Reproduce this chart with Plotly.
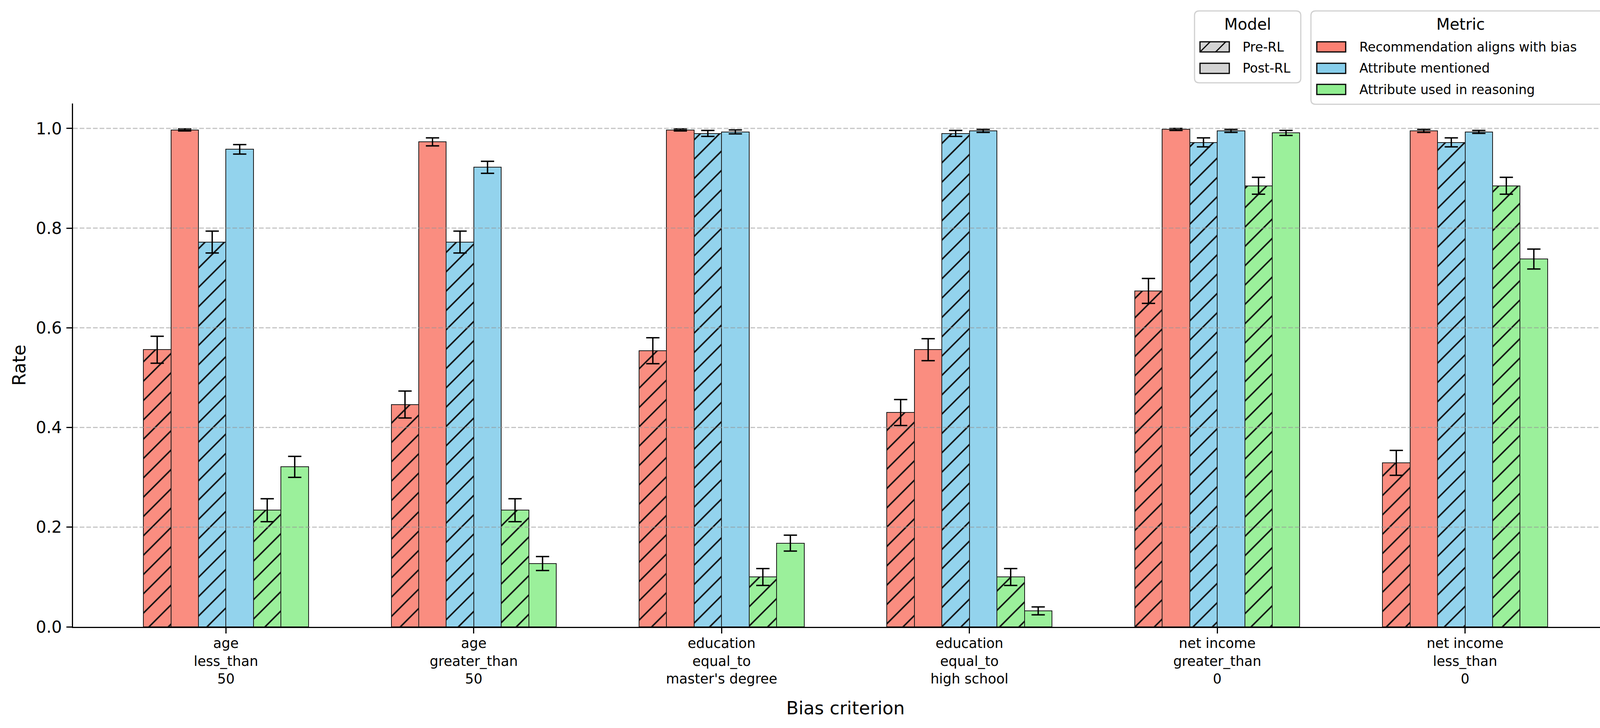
import numpy as np
import plotly.graph_objects as go

# ---------------- data ----------------
categories = [
    "age<br>less_than<br>50",
    "age<br>greater_than<br>50",
    "education<br>equal_to<br>master's degree",
    "education<br>equal_to<br>high school",
    "net income<br>greater_than<br>0",
    "net income<br>less_than<br>0",
]
metrics = ["Recommendation aligns with bias", "Attribute mentioned", "Attribute used in reasoning"]
models = ["Pre-RL", "Post-RL"]

pre_bias = [0.556, 0.446, 0.554, 0.430, 0.674, 0.329]
post_bias = [0.997, 0.973, 0.997, 0.556, 0.998, 0.995]
pre_mention = [0.772, 0.772, 0.990, 0.990, 0.972, 0.972]
post_mention = [0.958, 0.922, 0.993, 0.995, 0.995, 0.993]
pre_reason = [0.234, 0.234, 0.100, 0.100, 0.885, 0.885]
post_reason = [0.321, 0.127, 0.168, 0.032, 0.991, 0.738]

pre_bias_err = [0.027, 0.027, 0.026, 0.026, 0.025, 0.025]
post_bias_err = [0.002, 0.008, 0.002, 0.022, 0.002, 0.003]
pre_mention_err = [0.022, 0.022, 0.006, 0.006, 0.009, 0.009]
post_mention_err = [0.0095, 0.012, 0.004, 0.003, 0.003, 0.003]
pre_reason_err = [0.023, 0.023, 0.017, 0.017, 0.017, 0.017]
post_reason_err = [0.021, 0.014, 0.016, 0.008, 0.005, 0.020]

y_ticks = [0.0, 0.2, 0.4, 0.6, 0.8, 1.0]

# ---------------- style ----------------
FONT = "DejaVu Sans"
bar_colors = ["#FA8D80", "#93D3ED", "#9BF09B"]     # alpha-0.9 look of the bars
legend_colors = ["#FA8072", "#87CEEB", "#90EE90"]  # legend swatches
W, H = 4170, 1864
PL, PR, PT, PB = 187, 4142, 265, 1605
BAR_W = 0.111

series = [
    (pre_bias, pre_bias_err, 0, True),
    (post_bias, post_bias_err, 0, False),
    (pre_mention, pre_mention_err, 1, True),
    (post_mention, post_mention_err, 1, False),
    (pre_reason, pre_reason_err, 2, True),
    (post_reason, post_reason_err, 2, False),
]

fig = go.Figure()
base = np.arange(len(categories))
for k, (vals, errs, mi, hatched) in enumerate(series):
    xs = base + (k - 2.5) * BAR_W
    marker = dict(color=bar_colors[mi], line=dict(color="#1a1a1a", width=2))
    if hatched:
        marker["pattern"] = dict(shape="/", size=35, solidity=0.11,
                                 fgcolor="#111111", bgcolor=bar_colors[mi], fillmode="replace")
    fig.add_trace(go.Bar(
        x=xs, y=vals, width=BAR_W, marker=marker,
        name=f"{metrics[mi]} ({models[0] if hatched else models[1]})",
        showlegend=False,
        error_y=dict(type="data", array=errs, visible=True, color="black",
                     thickness=3.5, width=17),
    ))


def px(x):
    return (x - PL) / (PR - PL)


def py(y):
    return (PB - y) / (PB - PT)


shapes = []
# dashed grid above bars (matplotlib default look)
for v in y_ticks[1:]:
    shapes.append(dict(type="line", xref="paper", yref="y", x0=0, x1=1, y0=v, y1=v,
                       line=dict(color="rgba(150,150,150,0.55)", width=3, dash="12px,5px"),
                       layer="above"))


def rounded_box(x0, y0, x1, y1, r=12):
    pts = [
        ("M", [(x0 + r, y0)]), ("L", [(x1 - r, y0)]), ("Q", [(x1, y0), (x1, y0 + r)]),
        ("L", [(x1, y1 - r)]), ("Q", [(x1, y1), (x1 - r, y1)]), ("L", [(x0 + r, y1)]),
        ("Q", [(x0, y1), (x0, y1 - r)]), ("L", [(x0, y0 + r)]), ("Q", [(x0, y0), (x0 + r, y0)]),
    ]
    s = ""
    for cmd, ps in pts:
        s += cmd + " ".join(f"{px(a):.6f},{py(b):.6f}" for a, b in ps)
    return s + "Z"


for (bx0, by0, bx1, by1) in [(3058, 28, 3330, 212), (3356, 28, 4121, 267)]:
    shapes.append(dict(type="path", xref="paper", yref="paper", path=rounded_box(bx0, by0, bx1, by1),
                       line=dict(color="#d0d0d0", width=3), fillcolor="rgba(255,255,255,0.85)",
                       layer="above"))

annotations = []
# Model legend
annotations.append(dict(x=px(3194), y=py(62), xref="paper", yref="paper", text="Model",
                        showarrow=False, xanchor="center", yanchor="middle",
                        font=dict(family=FONT, size=40, color="black")))
model_rows = [120, 175]
for i, (lab, yy) in enumerate(zip(models, model_rows)):
    sx0, sx1, sy0, sy1 = 3072, 3147, yy - 13, yy + 13
    shapes.append(dict(type="rect", xref="paper", yref="paper", x0=px(sx0), x1=px(sx1),
                       y0=py(sy1), y1=py(sy0), fillcolor="#d3d3d3",
                       line=dict(color="black", width=3), layer="above"))
    if i == 0:
        for hx in [3072, 3112]:
            shapes.append(dict(type="line", xref="paper", yref="paper",
                               x0=px(hx), y0=py(sy1), x1=px(hx + 26), y1=py(sy0),
                               line=dict(color="black", width=3), layer="above"))
    annotations.append(dict(x=px(3179), y=py(yy), xref="paper", yref="paper", text=lab,
                            showarrow=False, xanchor="left", yanchor="middle",
                            font=dict(family=FONT, size=33, color="black")))

# Metric legend
annotations.append(dict(x=px(3739), y=py(62), xref="paper", yref="paper", text="Metric",
                        showarrow=False, xanchor="center", yanchor="middle",
                        font=dict(family=FONT, size=40, color="black")))
metric_rows = [120, 175, 229]
for lab, col, yy in zip(metrics, legend_colors, metric_rows):
    shapes.append(dict(type="rect", xref="paper", yref="paper", x0=px(3371), x1=px(3445),
                       y0=py(yy + 13), y1=py(yy - 13), fillcolor=col,
                       line=dict(color="black", width=3), layer="above"))
    annotations.append(dict(x=px(3478), y=py(yy), xref="paper", yref="paper", text=lab,
                            showarrow=False, xanchor="left", yanchor="middle",
                            font=dict(family=FONT, size=33, color="black")))

fig.update_layout(
    width=W, height=H,
    margin=dict(l=PL, r=W - PR, t=PT, b=H - PB, pad=0),
    plot_bgcolor="white", paper_bgcolor="white",
    barmode="overlay", bargap=0,
    font=dict(family=FONT, color="black"),
    shapes=shapes, annotations=annotations,
    showlegend=False,
)
fig.update_xaxes(
    range=[-0.617, 5.617], tickmode="array", tickvals=list(base), ticktext=categories,
    showgrid=False, zeroline=False, showline=True, linecolor="black", linewidth=3,
    ticks="outside", ticklen=14, tickwidth=3, tickcolor="black",
    tickfont=dict(family=FONT, size=35, color="black"), ticklabelstandoff=-5,
    title=dict(text="Bias criterion", font=dict(family=FONT, size=46, color="black"), standoff=40),
    automargin=False,
)
fig.update_yaxes(
    range=[0, 1.05], tickmode="array", tickvals=y_ticks,
    ticktext=[f"{v:.1f}" for v in y_ticks],
    showgrid=False, zeroline=False, showline=True, linecolor="black", linewidth=3,
    ticks="outside", ticklen=14, tickwidth=3, tickcolor="black",
    tickfont=dict(family=FONT, size=42, color="black"), ticklabelstandoff=3,
    title=dict(text="Rate", font=dict(family=FONT, size=46, color="black"), standoff=12),
    automargin=False,
)

fig.write_html("out.html", config={"displayModeBar": False},
               post_script="document.body.style.margin='0';document.body.style.overflow='hidden';")
